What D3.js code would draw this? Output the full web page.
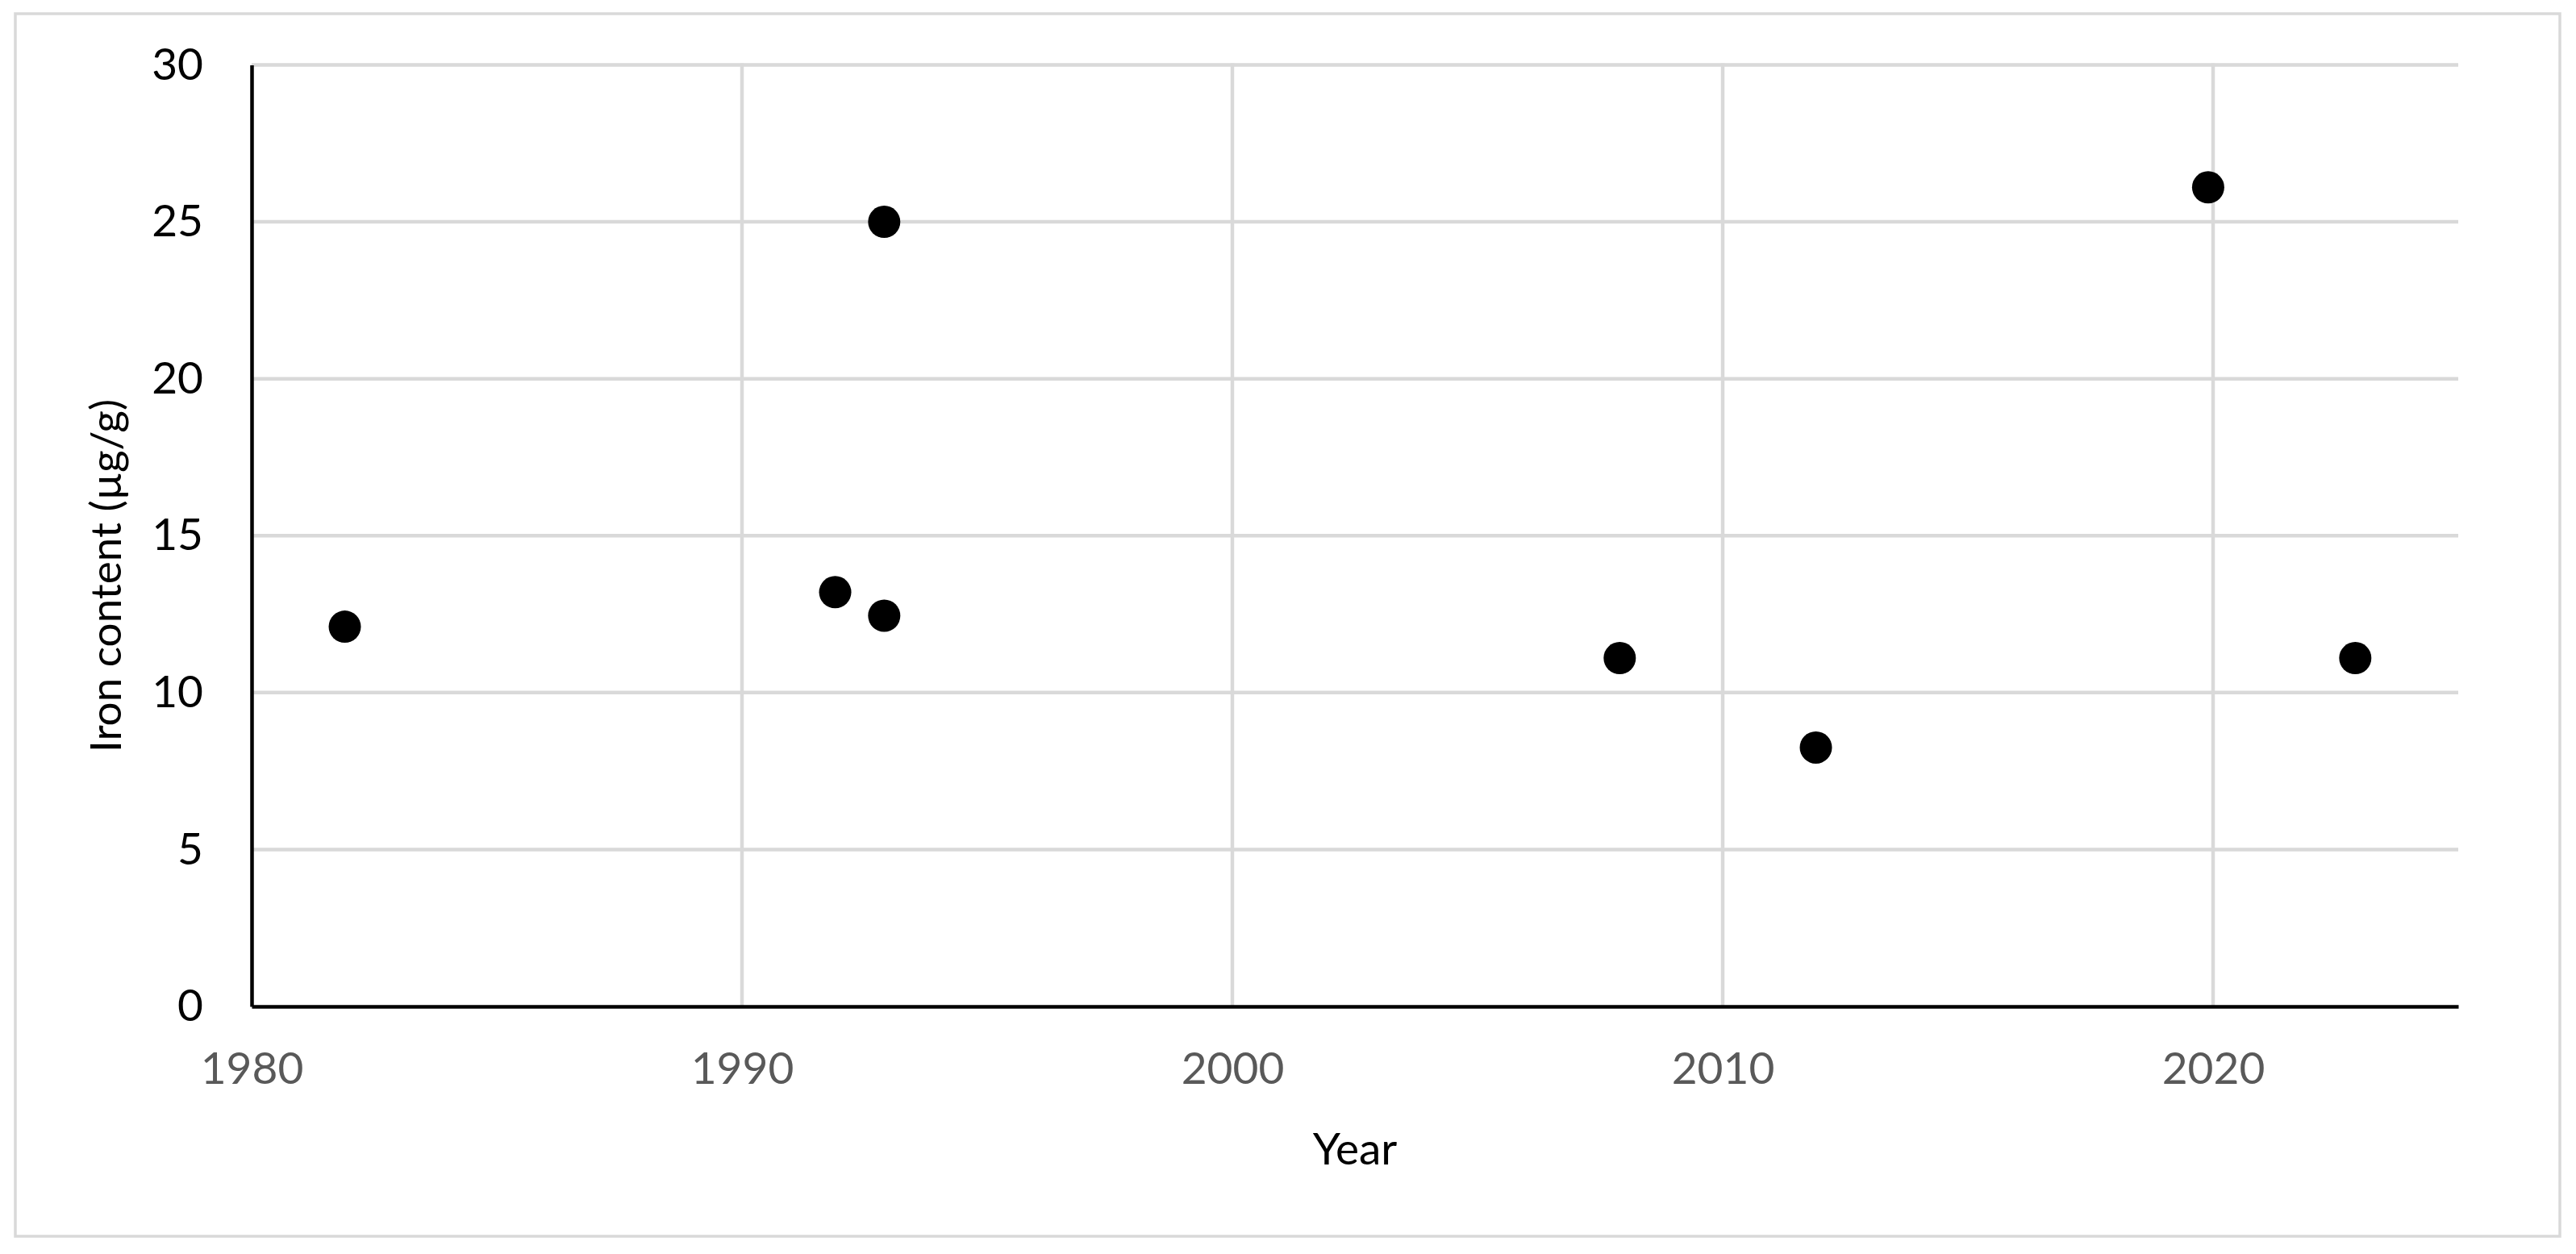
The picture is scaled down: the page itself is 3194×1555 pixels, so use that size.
<!DOCTYPE html>
<html><head><meta charset="utf-8">
<script src="https://cdn.jsdelivr.net/npm/d3@7"></script>
<style>
html,body{margin:0;padding:0;background:#fff;}
svg text{font-family:Lato,"Open Sans",sans-serif;}
</style></head>
<body><svg id="chart" width="3194" height="1555"></svg>
<script>
const years = [1981.9, 1991.9, 1992.9, 1992.9, 2007.9, 2011.9, 2019.9, 2022.9];
const ironValues = [12.1, 13.2, 12.45, 25.0, 11.1, 8.25, 26.1, 11.1];
const xTicks = [1980, 1990, 2000, 2010, 2020];
const yTicks = [0, 5, 10, 15, 20, 25, 30];
const xTitle = "Year";
const yTitle = "Iron content (µg/g)";

(function () {
const svg = d3.select("#chart");
const pLeft = 312, pRight = 3048, pTop = 80.5, pBottom = 1248;
const x = d3.scaleLinear().domain([1980, 2025]).range([pLeft, pRight]);
const y = d3.scaleLinear().domain([0, 30]).range([pBottom, pTop]);

svg.append("rect").attr("x", 19).attr("y", 17).attr("width", 3155).attr("height", 1516)
  .attr("fill", "#fff").attr("stroke", "#d9d9d9").attr("stroke-width", 3.5);

// gridlines
svg.append("g").selectAll("line").data(yTicks.filter(d => d > 0)).join("line")
  .attr("x1", pLeft).attr("x2", pRight).attr("y1", d => y(d)).attr("y2", d => y(d))
  .attr("stroke", "#d9d9d9").attr("stroke-width", 4.5);
svg.append("g").selectAll("line").data(xTicks.filter(d => d > 1980)).join("line")
  .attr("x1", d => x(d)).attr("x2", d => x(d)).attr("y1", pTop - 2).attr("y2", pBottom)
  .attr("stroke", "#d9d9d9").attr("stroke-width", 4.5);

// axes
const yAxis = d3.axisLeft(y).tickValues(yTicks).tickSize(0).tickPadding(60).tickFormat(d3.format("d"));
const gy = svg.append("g").attr("transform", `translate(${pLeft},0)`).call(yAxis);
gy.select(".domain").attr("stroke", "#000").attr("stroke-width", 4.5);
gy.selectAll("text").attr("font-size", 55).attr("fill", "#000").attr("font-family", "Lato").attr("dy", "0.32em");

const xAxis = d3.axisBottom(x).tickValues(xTicks).tickSize(0).tickPadding(57).tickFormat(d3.format("d"));
const gx = svg.append("g").attr("transform", `translate(0,${pBottom})`).call(xAxis);
gx.select(".domain").attr("stroke", "#000").attr("stroke-width", 4.5);
gx.selectAll("text").attr("font-size", 55).attr("fill", "#595959").attr("font-family", "Lato");

// titles
svg.append("text").attr("x", (pLeft + pRight) / 2).attr("y", 1444).attr("text-anchor", "middle")
  .attr("font-size", 55).attr("fill", "#000").text(xTitle);
svg.append("text").attr("transform", `translate(150,714) rotate(-90)`)
  .attr("text-anchor", "middle").attr("font-size", 53).attr("fill", "#000").text(yTitle);

// points
const pts = years.map((yr, i) => ({yr, v: ironValues[i]}));
svg.append("g").selectAll("circle").data(pts).join("circle")
  .attr("cx", d => x(d.yr)).attr("cy", d => y(d.v)).attr("r", 20).attr("fill", "#000");
})();
</script></body></html>
